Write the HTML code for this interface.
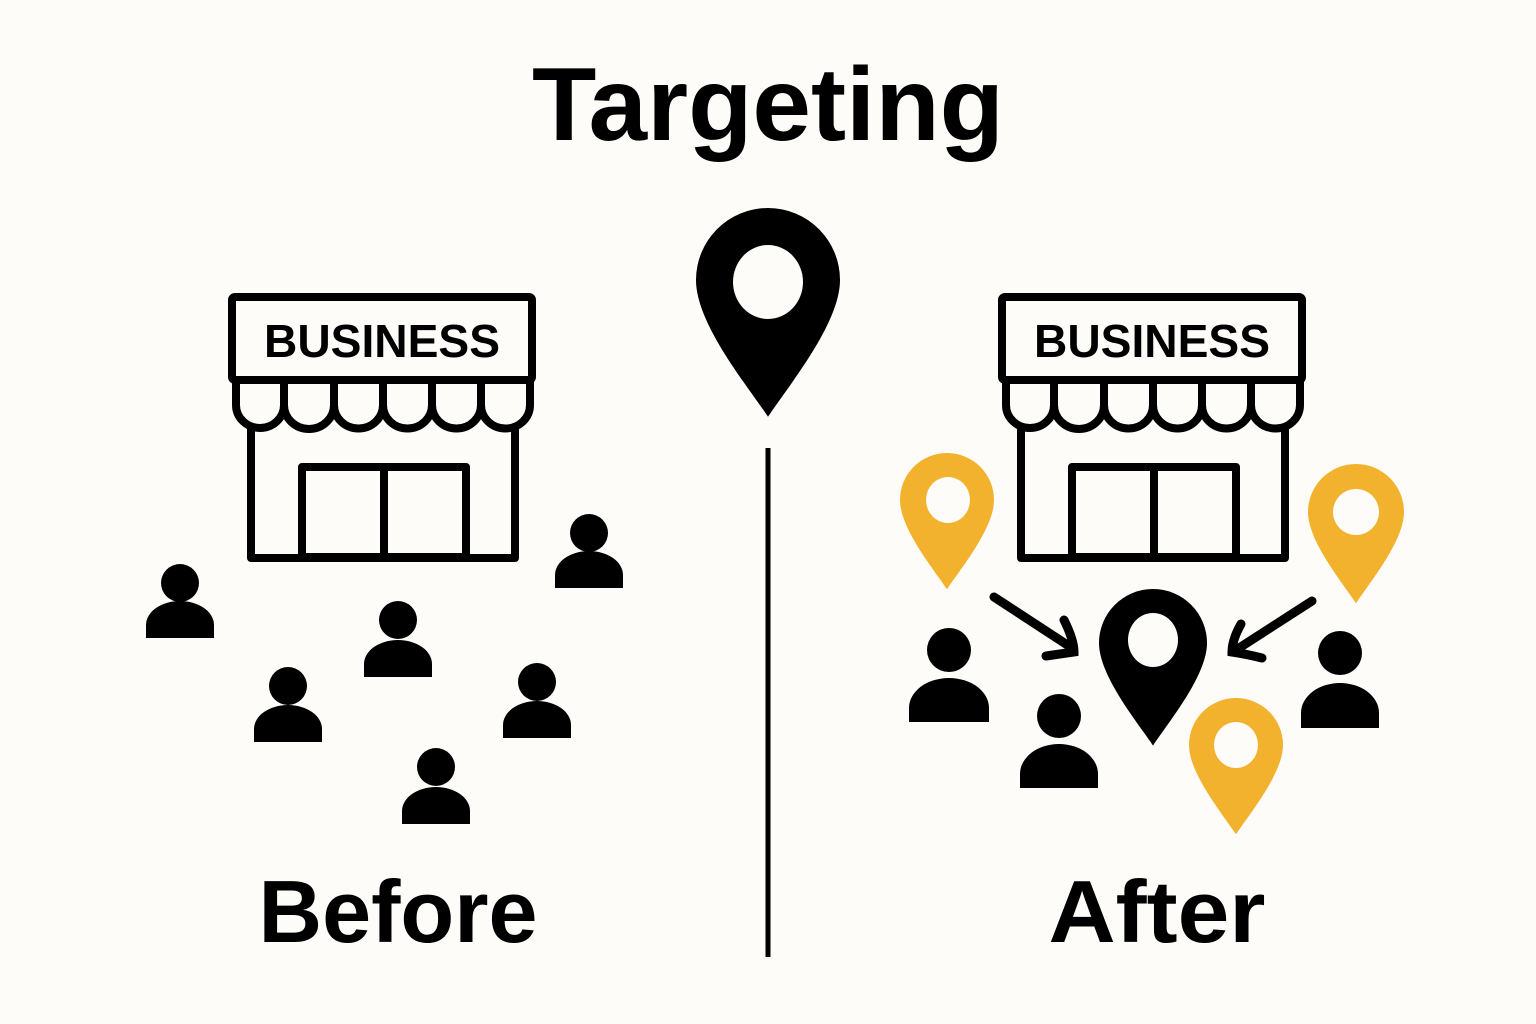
<!DOCTYPE html>
<html><head><style>body{margin:0;background:#fdfcf8}svg{display:block}</style></head><body>
<svg width="1536" height="1024" viewBox="0 0 1536 1024" xmlns="http://www.w3.org/2000/svg">
<defs>
<path id="pin" d="M0,1.9 C-0.3,1.45 -1,0.6 -1,0 A1,1 0 0 1 1,0 C1,0.6 0.3,1.45 0,1.9Z"/>
<g id="store" fill="none" stroke="#000" stroke-width="8" stroke-linejoin="round">
<rect x="232" y="297" width="300" height="83" rx="3"/>
<path d="M236,380 V405 A24,23 0 0 0 284,405 A24,23 0 0 0 334,405 A24,23 0 0 0 383,405 A24,23 0 0 0 432,405 A24,23 0 0 0 481,405 A24,23 0 0 0 530,405 V380"/>
<path d="M284,380 V405 M334,380 V405 M383,380 V405 M432,380 V405 M481,380 V405"/>
<path d="M251,426 V558 H515 V426"/>
<rect x="302" y="467" width="164" height="90"/>
<line x1="384" y1="467" x2="384" y2="557"/>
<text x="382" y="357" text-anchor="middle" font-family="Liberation Sans, sans-serif" font-weight="bold" font-size="46" textLength="236" lengthAdjust="spacingAndGlyphs" fill="#000" stroke="none">BUSINESS</text>
</g>
</defs>
<text x="768" y="140" text-anchor="middle" font-family="Liberation Sans, sans-serif" font-weight="bold" font-size="104" textLength="472" lengthAdjust="spacingAndGlyphs" fill="#000">Targeting</text>
<text x="398" y="942" text-anchor="middle" font-family="Liberation Sans, sans-serif" font-weight="bold" font-size="88" textLength="279" lengthAdjust="spacingAndGlyphs" fill="#000">Before</text>
<text x="1157" y="942" text-anchor="middle" font-family="Liberation Sans, sans-serif" font-weight="bold" font-size="88" textLength="217" lengthAdjust="spacingAndGlyphs" fill="#000">After</text>
<line x1="768" y1="448" x2="768" y2="957" stroke="#000" stroke-width="5"/>
<use href="#pin" transform="translate(768,280) scale(72)" fill="#000"/>
<ellipse cx="768" cy="282" rx="35" ry="37" fill="#fdfcf8"/>
<use href="#store"/>
<use href="#store" transform="translate(770,0)"/>
<g fill="#000">
<g transform="translate(180,583)"><circle r="19"/><path d="M-34,55 V42 A34,24 0 0 1 34,42 V55Z"/></g>
<g transform="translate(589,533)"><circle r="19"/><path d="M-34,55 V42 A34,24 0 0 1 34,42 V55Z"/></g>
<g transform="translate(398,620)"><circle r="19"/><path d="M-34,57 V44 A34,24 0 0 1 34,44 V57Z"/></g>
<g transform="translate(288,686)"><circle r="19"/><path d="M-34,56 V43 A34,24 0 0 1 34,43 V56Z"/></g>
<g transform="translate(537,682)"><circle r="19"/><path d="M-34,56 V43 A34,24 0 0 1 34,43 V56Z"/></g>
<g transform="translate(436,767)"><circle r="19"/><path d="M-34,57 V44 A34,24 0 0 1 34,44 V57Z"/></g>
<g transform="translate(949,650)"><circle r="22"/><path d="M-40,72 V58 A40,30 0 0 1 40,58 V72Z"/></g>
<g transform="translate(1059,716)"><circle r="22"/><path d="M-39,72 V58 A39,30 0 0 1 39,58 V72Z"/></g>
<g transform="translate(1340,653)"><circle r="22"/><path d="M-39,75 V60 A39,30 0 0 1 39,60 V75Z"/></g>
</g>
<g fill="#f2b22e">
<use href="#pin" transform="translate(947,500) scale(47)"/>
<use href="#pin" transform="translate(1356,512) scale(48)"/>
<use href="#pin" transform="translate(1236,745) scale(47)"/>
</g>
<g fill="#fdfcf8">
<ellipse cx="948" cy="500" rx="22" ry="23"/>
<ellipse cx="1356" cy="512" rx="23" ry="23"/>
<ellipse cx="1236" cy="745" rx="22" ry="23"/>
</g>
<use href="#pin" transform="translate(1153,643) scale(54)" fill="#000"/>
<ellipse cx="1153" cy="640" rx="25" ry="27" fill="#fdfcf8"/>
<g fill="none" stroke="#000" stroke-width="9" stroke-linecap="round">
<path d="M994,597 L1072,648"/>
<path d="M1064,620 Q1074,640 1074,652 Q1060,654 1046,656"/>
<path d="M1312,601 L1236,650"/>
<path d="M1241,624 Q1232,640 1232,652 Q1246,654 1262,658"/>
</g>
</svg>
</body></html>
